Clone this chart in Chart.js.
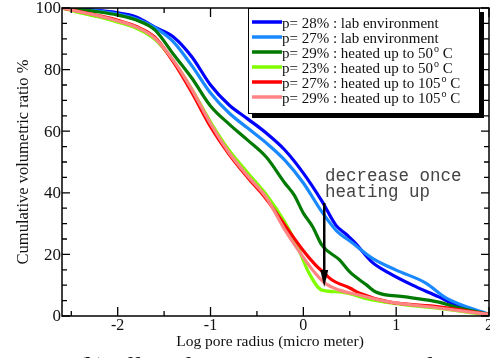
<!DOCTYPE html>
<html>
<head>
<meta charset="utf-8">
<script src="https://cdn.jsdelivr.net/npm/chart.js@4.4.1/dist/chart.umd.min.js"></script>
<style>
  body { margin: 0; background: #fff; }
  canvas { display: block; }
</style>
</head>
<body>
<canvas id="chart" width="490" height="358"></canvas>
<script>
// series names (legend)
const seriesNames = [
  "p= 28% : lab environment",
  "p= 27% : lab environment",
  "p= 29% : heated up to 50",
  "p= 23% : heated up to 50",
  "p= 27% : heated up to 105",
  "p= 29% : heated up to 105"
];
const seriesUnits = ["", "", "o C", "o C", "o C", "o C"];
const seriesColors = ["#0000ff", "#1a88ff", "#007a00", "#80ff00", "#ff0000", "#ff8585"];

// values: x = log pore radius, y = cumulative %
const lab28X = [-2.6,-2.4,-2.2,-2.0,-1.8,-1.6,-1.4,-1.2,-1.0,-0.8,-0.6,-0.4,-0.2,0,0.2,0.35,0.47,0.55,0.74,0.92,1.17,1.46,1.64,2.0];
const lab28Y = [100,99.7,99.2,98.4,97.1,93.8,90.6,84.1,75.0,68.5,64.0,59.4,53.9,46.4,37.3,29.5,26.3,24.0,17.5,14.0,10.1,6.2,3.6,0.5];

const lab27X = [-2.6,-2.4,-2.2,-2.0,-1.8,-1.6,-1.4,-1.2,-1.0,-0.8,-0.6,-0.4,-0.2,0,0.2,0.35,0.53,0.74,1.0,1.32,1.54,2.0];
const lab27Y = [100,99.5,99,98,96.4,93.6,89,81.2,72.4,65.9,61,56.2,50.6,43.2,33.8,27.9,23.7,18.8,14.9,10.7,5.8,0.5];

const h50aX = [-2.6,-2.4,-2.2,-2.0,-1.8,-1.6,-1.4,-1.2,-1.0,-0.8,-0.6,-0.4,-0.2,-0.1,0,0.1,0.2,0.39,0.5,0.68,0.78,1.1,1.46,1.64,2.0];
const h50aY = [100,99.4,98.7,97.7,96.1,92.9,85,77.2,68.2,62.3,57.1,51.6,43.2,39.3,33.4,29,23,18.2,14.3,10.1,7.8,6.2,4.5,2.9,0.5];

const h50bX = [-2.6,-2.4,-2.2,-2.0,-1.8,-1.6,-1.4,-1.2,-1.0,-0.8,-0.6,-0.4,-0.2,-0.08,0.06,0.2,0.39,0.74,1.1,1.46,2.0];
const h50bY = [100,98.4,97.1,95.4,93.4,89.8,82.8,73.6,63,53.8,46.5,39.5,30.5,23.7,14,8.4,7.8,5.2,3.6,2.5,0.2];

const h105aX = [-2.6,-2.4,-2.2,-2.0,-1.8,-1.6,-1.4,-1.2,-1.0,-0.8,-0.6,-0.4,-0.2,0,0.13,0.2,0.31,0.5,0.6,0.92,1.46,2.0];
const h105aY = [100,98.8,97.5,96,94,90.5,82.5,72.5,61.5,52.5,45,38,29.5,21.2,16.6,14.6,11.7,9.1,7.5,4.6,3.0,0.5];

const h105bX = [-2.6,-2.4,-2.2,-2.0,-1.8,-1.6,-1.4,-1.2,-1.0,-0.8,-0.6,-0.4,-0.2,-0.08,0.1,0.23,0.39,0.6,0.92,1.46,2.0];
const h105bY = [100,98.7,97.4,95.8,93.8,90.2,83,73.5,62.5,53,45.5,38.5,28,22.5,14.9,10.7,8.4,6.8,4.6,2.6,0.5];

// ticks
const xTicks = [-2, -1, 0, 1, 2];
const xMinor = [-2.5, -1.5, -0.5, 0.5, 1.5];
const yTicks = [0, 20, 40, 60, 80, 100];
const yMinor = [5, 10, 15, 25, 30, 35, 45, 50, 55, 65, 70, 75, 85, 90, 95];

// arrow: x, from y, to y
const arrowX = 0.225;
const arrowFrom = 36.7;
const arrowTo = 9.4;

const serif = "'Liberation Serif', 'Times New Roman', serif";

function pts(xs, ys) {
  return xs.map(function (x, i) { return { x: x, y: ys[i] }; });
}

const allX = [lab28X, lab27X, h50aX, h50bX, h105aX, h105bX];
const allY = [lab28Y, lab27Y, h50aY, h50bY, h105aY, h105bY];
const drawOrder = [5, 4, 3, 2, 1, 0];

const datasets = seriesNames.map(function (name, i) {
  return {
    label: name,
    data: pts(allX[i], allY[i]),
    borderColor: seriesColors[i],
    borderWidth: 3.2,
    pointRadius: 0,
    fill: false,
    cubicInterpolationMode: "monotone",
    order: drawOrder[i]
  };
});

const decorPlugin = {
  id: "decor",
  afterDraw: function (chart) {
    const ctx = chart.ctx;
    const xs = chart.scales.x, ys = chart.scales.y;
    const a = chart.chartArea;
    ctx.save();

    // frame
    ctx.strokeStyle = "#000";
    ctx.lineWidth = 1.5;
    ctx.strokeRect(a.left, a.top, a.right - a.left, a.bottom - a.top);

    // ticks (inward, on all four sides)
    ctx.lineWidth = 1.3;
    function vtick(v, len) {
      const px = xs.getPixelForValue(v);
      ctx.beginPath();
      ctx.moveTo(px, a.bottom); ctx.lineTo(px, a.bottom - len);
      ctx.moveTo(px, a.top); ctx.lineTo(px, a.top + len);
      ctx.stroke();
    }
    function htick(v, len) {
      const py = ys.getPixelForValue(v);
      ctx.beginPath();
      ctx.moveTo(a.left, py); ctx.lineTo(a.left + len, py);
      ctx.moveTo(a.right, py); ctx.lineTo(a.right - len, py);
      ctx.stroke();
    }
    xTicks.forEach(function (v) { vtick(v, 9); });
    xMinor.forEach(function (v) { vtick(v, 5); });
    yTicks.forEach(function (v) { htick(v, 8); });
    yMinor.forEach(function (v) { htick(v, 5); });

    // tick labels
    ctx.fillStyle = "#111";
    ctx.font = "17px " + serif;
    ctx.textAlign = "right";
    ctx.textBaseline = "middle";
    yTicks.forEach(function (v) {
      ctx.fillText(String(v), a.left - 1, ys.getPixelForValue(v) + 1);
    });
    ctx.font = "16px " + serif;
    ctx.textAlign = "center";
    ctx.textBaseline = "top";
    xTicks.forEach(function (v) {
      ctx.fillText(String(v), xs.getPixelForValue(v), a.bottom + 2);
    });

    // axis titles
    ctx.font = "15.5px " + serif;
    ctx.textBaseline = "alphabetic";
    ctx.fillText("Log pore radius (micro meter)", 270, 346);
    ctx.save();
    ctx.translate(28, 162);
    ctx.rotate(-Math.PI / 2);
    ctx.font = "16.5px " + serif;
    ctx.fillText("Cumulative volumetric ratio %", 0, 0);
    ctx.restore();

    // caption, cut by the window bottom
    ctx.font = "bold 22px " + serif;
    ctx.textAlign = "left";
    ctx.fillText("(b) Effect of temperature on curves of MIP", 78, 372);

    // annotation text
    ctx.fillStyle = "#444";
    ctx.font = "17.5px 'Liberation Mono', 'Courier New', monospace";
    ctx.fillText("decrease once", 325, 181);
    ctx.fillText("heating up", 325, 197);

    // arrow
    const ax = xs.getPixelForValue(arrowX);
    const ay0 = ys.getPixelForValue(arrowFrom);
    const ay1 = ys.getPixelForValue(arrowTo);
    ctx.strokeStyle = "#000";
    ctx.fillStyle = "#000";
    ctx.lineWidth = 2.5;
    ctx.beginPath();
    ctx.moveTo(ax, ay0); ctx.lineTo(ax, ay1 - 12);
    ctx.stroke();
    ctx.beginPath();
    ctx.moveTo(ax, ay1);
    ctx.lineTo(ax - 4, ay1 - 17);
    ctx.lineTo(ax + 4, ay1 - 17);
    ctx.closePath();
    ctx.fill();

    // legend box with shadow
    const bx = 248, by = 8, bw = 232, bh = 106;
    ctx.fillStyle = "#000";
    ctx.fillRect(bx + 4, by + 4, bw, bh);
    ctx.fillStyle = "#fff";
    ctx.fillRect(bx, by, bw, bh);
    ctx.lineWidth = 1;
    ctx.strokeRect(bx + 0.5, by + 0.5, bw - 1, bh - 1);

    seriesNames.forEach(function (name, i) {
      const ly = 22 + i * 15;
      ctx.strokeStyle = seriesColors[i];
      ctx.lineWidth = 3.5;
      ctx.beginPath();
      ctx.moveTo(252, ly); ctx.lineTo(282, ly);
      ctx.stroke();
      ctx.fillStyle = "#111";
      ctx.font = "15px " + serif;
      ctx.textAlign = "left";
      ctx.textBaseline = "alphabetic";
      ctx.fillText(name, 282, ly + 5.5);
      if (seriesUnits[i]) {
        let tx = 282 + ctx.measureText(name).width + 1;
        ctx.font = "10px " + serif;
        ctx.fillText("o", tx, ly);
        tx += ctx.measureText("o").width;
        ctx.font = "15px " + serif;
        ctx.fillText(" C", tx, ly + 5.5);
      }
    });

    ctx.restore();
  }
};

new Chart(document.getElementById("chart").getContext("2d"), {
  type: "line",
  data: { datasets: datasets },
  options: {
    responsive: false,
    animation: false,
    layout: { padding: { left: 62, right: 1, top: 8, bottom: 42 } },
    plugins: { legend: { display: false }, tooltip: { enabled: false } },
    scales: {
      x: { type: "linear", min: -2.6, max: 2, display: false },
      y: { type: "linear", min: 0, max: 100, display: false }
    }
  },
  plugins: [decorPlugin]
});
</script>
</body>
</html>
